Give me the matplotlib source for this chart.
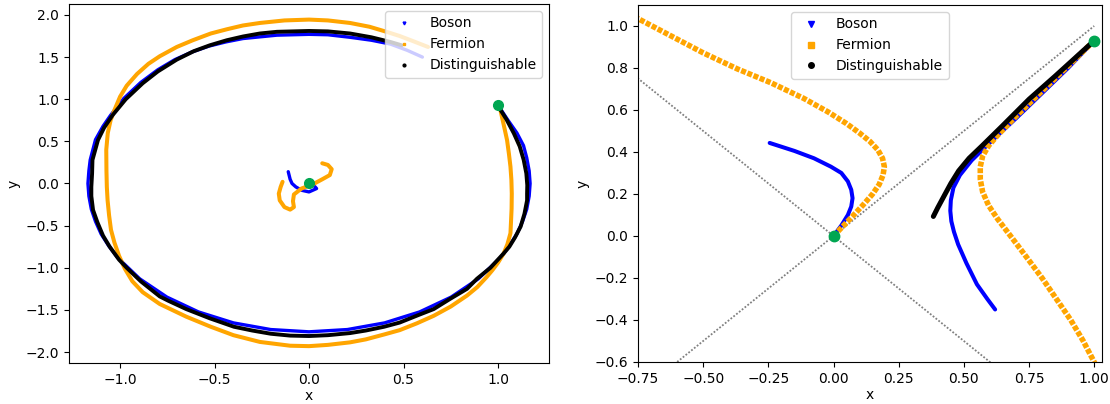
import numpy as np
import matplotlib
matplotlib.use("Agg")
import matplotlib.pyplot as plt
from matplotlib.lines import Line2D
from matplotlib.ticker import MultipleLocator

# ---- left panel: orbits ----
orbit_boson = np.array([
    (1.0, 0.93), (1.05, 0.76), (1.10, 0.60), (1.135, 0.45), (1.152, 0.306),
    (1.165, 0.15), (1.17, 0.0), (1.165, -0.15), (1.152, -0.306), (1.13, -0.45),
    (1.10, -0.60), (1.06, -0.74), (1.013, -0.88), (0.896, -1.131), (0.752, -1.348),
    (0.585, -1.524), (0.40, -1.654), (0.203, -1.733), (0.0, -1.76), (-0.203, -1.733),
    (-0.40, -1.654), (-0.585, -1.524), (-0.752, -1.348), (-0.896, -1.131),
    (-1.013, -0.88), (-1.06, -0.74), (-1.10, -0.60), (-1.13, -0.45), (-1.152, -0.306),
    (-1.165, -0.15), (-1.17, 0.0), (-1.165, 0.15), (-1.158, 0.28), (-1.13, 0.52),
    (-1.09, 0.68), (-1.05, 0.81), (-0.98, 1.01), (-0.89, 1.20), (-0.80, 1.35),
    (-0.71, 1.47), (-0.62, 1.56), (-0.53, 1.63), (-0.44, 1.68), (-0.35, 1.72),
    (-0.17, 1.76), (0.0, 1.77), (0.10, 1.765), (0.217, 1.735), (0.33, 1.70),
    (0.43, 1.655), (0.52, 1.58), (0.60, 1.50)])
orbit_fermion = np.array([
    (1.0, 0.93), (1.013, 0.87), (1.03, 0.70), (1.048, 0.515), (1.058, 0.35),
    (1.066, 0.20), (1.071, 0.04), (1.073, -0.12), (1.072, -0.30), (1.069, -0.45),
    (1.066, -0.59), (1.05, -0.72), (1.03, -0.83), (1.00, -0.94), (0.97, -1.03),
    (0.94, -1.11), (0.89, -1.23), (0.836, -1.33), (0.75, -1.46), (0.66, -1.57),
    (0.57, -1.66), (0.48, -1.74), (0.40, -1.79), (0.30, -1.85), (0.217, -1.885),
    (0.10, -1.915), (0.0, -1.93), (-0.10, -1.925), (-0.26, -1.88), (-0.40, -1.80),
    (-0.52, -1.70), (-0.65, -1.58), (-0.79, -1.43), (-0.88, -1.29), (-0.935, -1.16),
    (-0.975, -1.01), (-1.005, -0.86), (-1.03, -0.70), (-1.048, -0.55),
    (-1.058, -0.38), (-1.066, -0.20), (-1.07, -0.04), (-1.072, 0.15),
    (-1.073, 0.40), (-1.065, 0.60), (-1.05, 0.75), (-1.03, 0.87), (-1.00, 1.03),
    (-0.965, 1.16), (-0.91, 1.30), (-0.85, 1.42), (-0.79, 1.51), (-0.70, 1.62),
    (-0.615, 1.70), (-0.52, 1.78), (-0.435, 1.83), (-0.35, 1.875), (-0.26, 1.905),
    (-0.13, 1.935), (0.0, 1.945), (0.10, 1.935), (0.217, 1.905), (0.32, 1.86),
    (0.41, 1.80), (0.48, 1.75), (0.55, 1.69), (0.63, 1.62)])
orbit_dist = np.array([
    (1.0, 0.92), (1.045, 0.76), (1.084, 0.595), (1.115, 0.44), (1.136, 0.28),
    (1.15, 0.12), (1.155, -0.02), (1.154, -0.12), (1.154, -0.20), (1.14, -0.36),
    (1.12, -0.51), (1.09, -0.64), (1.06, -0.75), (1.03, -0.83), (0.96, -1.00),
    (0.889, -1.13), (0.836, -1.25), (0.746, -1.37), (0.66, -1.49), (0.58, -1.56),
    (0.48, -1.65), (0.397, -1.70), (0.30, -1.745), (0.217, -1.775), (0.10, -1.80),
    (0.0, -1.81), (-0.10, -1.805), (-0.202, -1.783), (-0.30, -1.745),
    (-0.397, -1.70), (-0.525, -1.60), (-0.65, -1.49), (-0.746, -1.39),
    (-0.79, -1.34), (-0.889, -1.163), (-0.965, -1.0), (-1.005, -0.905),
    (-1.055, -0.75), (-1.09, -0.62), (-1.12, -0.46), (-1.143, -0.314),
    (-1.152, -0.15), (-1.152, -0.04), (-1.148, 0.12), (-1.146, 0.28),
    (-1.117, 0.515), (-1.085, 0.66), (-1.04, 0.81), (-0.97, 1.00), (-0.88, 1.19),
    (-0.80, 1.33), (-0.70, 1.47), (-0.61, 1.57), (-0.525, 1.64), (-0.435, 1.70),
    (-0.348, 1.745), (-0.26, 1.78), (-0.17, 1.80), (0.0, 1.81), (0.10, 1.805),
    (0.217, 1.78), (0.33, 1.735), (0.43, 1.68), (0.49, 1.64)])
core_boson = np.array([
    (0.02, -0.01), (0.04, -0.06), (0.0, -0.10), (-0.04, -0.08), (-0.07, -0.04),
    (-0.09, 0.0), (-0.10, 0.05), (-0.11, 0.14)])
core_fermion = np.array([
    (0.07, 0.24), (0.10, 0.22), (0.12, 0.17), (0.11, 0.10), (0.07, 0.05),
    (0.02, -0.01), (-0.04, -0.06), (-0.08, -0.13), (-0.085, -0.21), (-0.08, -0.28),
    (-0.10, -0.31), (-0.13, -0.28), (-0.155, -0.20), (-0.16, -0.12), (-0.15, -0.04),
    (-0.14, 0.02)])
start_left = np.array([(0.0, 0.0), (1.0, 0.93)])

# ---- right panel: scattering close-up ----
scat_boson_a = np.array([
    (0.0, 0.0), (0.03, 0.05), (0.055, 0.10), (0.068, 0.14), (0.073, 0.18),
    (0.068, 0.22), (0.055, 0.26), (0.03, 0.30), (-0.01, 0.33), (-0.075, 0.37),
    (-0.15, 0.405), (-0.20, 0.425), (-0.245, 0.443)])
scat_boson_b = np.array([
    (1.0, 0.93), (0.90, 0.80), (0.80, 0.68), (0.70, 0.56), (0.60, 0.445),
    (0.53, 0.36), (0.485, 0.29), (0.46, 0.23), (0.45, 0.17), (0.448, 0.12),
    (0.452, 0.07), (0.462, 0.02), (0.478, -0.04), (0.51, -0.13), (0.55, -0.23),
    (0.59, -0.30), (0.62, -0.35)])
scat_fermion_a = np.array([
    (0.0, 0.0), (0.035, 0.045), (0.07, 0.09), (0.115, 0.15), (0.15, 0.20),
    (0.175, 0.245), (0.19, 0.29), (0.195, 0.33), (0.188, 0.37), (0.17, 0.41),
    (0.14, 0.45), (0.10, 0.49), (0.05, 0.535), (-0.02, 0.59), (-0.114, 0.655),
    (-0.241, 0.730), (-0.368, 0.795), (-0.50, 0.872), (-0.627, 0.955),
    (-0.75, 1.035), (-0.80, 1.065)])
scat_fermion_b = np.array([
    (1.0, 0.93), (0.90, 0.81), (0.80, 0.69), (0.70, 0.57), (0.63, 0.48),
    (0.595, 0.43), (0.572, 0.38), (0.563, 0.33), (0.563, 0.27), (0.572, 0.21),
    (0.595, 0.145), (0.63, 0.08), (0.684, -0.008), (0.74, -0.10), (0.80, -0.20),
    (0.855, -0.30), (0.91, -0.40), (0.958, -0.50), (1.0, -0.60), (1.02, -0.65)])
scat_dist = np.array([
    (1.0, 0.93), (0.85, 0.761), (0.75, 0.651), (0.646, 0.522), (0.568, 0.427),
    (0.52, 0.37), (0.48, 0.31), (0.45, 0.25), (0.426, 0.195), (0.40, 0.135),
    (0.383, 0.093)])
guide_x = [-1.0, 1.0]
guide_up = [-1.0, 1.0]
guide_down = [1.0, -1.0]
start_right = np.array([(0.0, 0.0), (1.0, 0.93)])

labels = ['Boson', 'Fermion', 'Distinguishable']
colors = ['blue', 'orange', 'black']
markers = ['v', 's', 'o']
green = '#00a651'

fig = plt.figure(figsize=(11.1, 4.04), dpi=100)
ax1 = fig.add_axes([0.0622, 0.1015, 0.4324, 0.8886])
ax2 = fig.add_axes([0.5748, 0.104, 0.4180, 0.8837])

# left panel
for pts, lw, c in [(orbit_boson, 2.4, 'blue'), (core_boson, 2.4, 'blue'),
                   (orbit_fermion, 2.9, 'orange'), (core_fermion, 2.9, 'orange'),
                   (orbit_dist, 2.8, 'black')]:
    ax1.plot(pts[:, 0], pts[:, 1], color=c, lw=lw, solid_capstyle='round',
             solid_joinstyle='round')
ax1.plot(start_left[:, 0], start_left[:, 1], 'o', color=green, ms=7, ls='none')
ax1.set_xlim(-1.27, 1.27)
ax1.set_ylim(-2.13, 2.13)
ax1.set_xlabel('x', labelpad=2)
ax1.set_ylabel('y')
h1 = [Line2D([], [], ls='none', marker=m, color=c, ms=2) for m, c in zip(markers, colors)]
ax1.legend(h1, labels, loc='upper right')

# right panel
ax2.plot(guide_x, guide_up, color='gray', lw=1.3, ls=(0, (1, 1)))
ax2.plot(guide_x, guide_down, color='gray', lw=1.3, ls=(0, (1, 1)))
for pts in [scat_boson_a, scat_boson_b]:
    ax2.plot(pts[:, 0], pts[:, 1], color='blue', lw=2.9, solid_capstyle='round',
             solid_joinstyle='round')
for pts in [scat_fermion_a, scat_fermion_b]:
    ax2.plot(pts[:, 0], pts[:, 1], color='orange', lw=4.0, ls=(0, (0.9, 0.3)),
             dash_capstyle='butt')
ax2.plot(scat_dist[:, 0], scat_dist[:, 1], color='black', lw=3.6,
         solid_capstyle='round', solid_joinstyle='round')
ax2.plot(start_right[:, 0], start_right[:, 1], 'o', color=green, ms=7.5, ls='none')
ax2.set_xlim(-0.75, 1.03)
ax2.set_ylim(-0.6, 1.1)
ax2.xaxis.set_major_locator(MultipleLocator(0.25))
ax2.set_xlabel('x', labelpad=2)
ax2.set_ylabel('y')
h2 = [Line2D([], [], ls='none', marker=m, color=c, ms=4) for m, c in zip(markers, colors)]
ax2.legend(h2, labels, loc='upper center')

fig.savefig('out.png', dpi=100)
